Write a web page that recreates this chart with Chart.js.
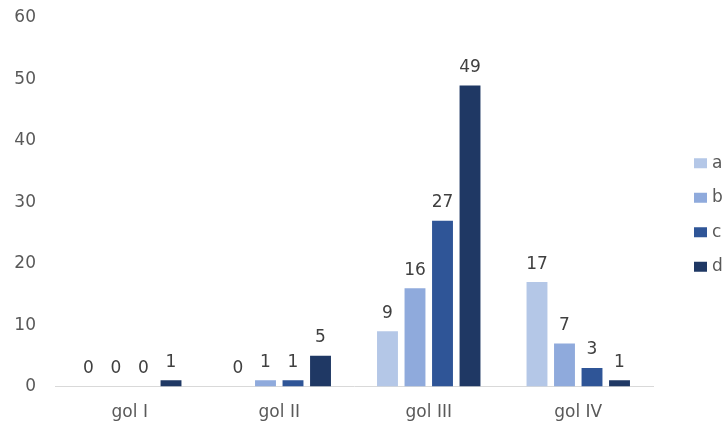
<!DOCTYPE html>
<html>
<head>
<meta charset="utf-8">
<script src="https://cdn.jsdelivr.net/npm/chart.js@4"></script>
<style>
  html, body { margin: 0; padding: 0; background: #fff; }
  #wrap { width: 724px; height: 423px; position: relative; }
</style>
</head>
<body>
<div id="wrap"><canvas id="chart"></canvas></div>
<script>
const categories = ["gol I", "gol II", "gol III", "gol IV"];
const seriesNames = ["a", "b", "c", "d"];
const valuesA = [0, 0, 9, 17];
const valuesB = [0, 1, 16, 7];
const valuesC = [0, 1, 27, 3];
const valuesD = [1, 5, 49, 1];
const yTicks = [0, 10, 20, 30, 40, 50, 60];

const colors = ["#b4c7e7", "#8faadc", "#2f5597", "#1f3864"];
const FONT = "'DejaVu Sans', sans-serif";

// value labels above each bar
const barLabels = {
    id: "barLabels",
    afterDatasetsDraw(chart) {
        const ctx = chart.ctx;
        ctx.save();
        ctx.font = "17px " + FONT;
        ctx.fillStyle = "#404040";
        ctx.textAlign = "center";
        ctx.textBaseline = "middle";
        chart.data.datasets.forEach((ds, i) => {
            chart.getDatasetMeta(i).data.forEach((bar, j) => {
                ctx.fillText(String(ds.data[j]), bar.x, bar.y - 18);
            });
        });
        ctx.restore();
    }
};

// vertical legend on the right
const sideLegend = {
    id: "sideLegend",
    afterDraw(chart) {
        const ctx = chart.ctx;
        const sets = chart.data.datasets;
        const step = 34.5;
        const y0 = 215 - step * (sets.length - 1) / 2;
        ctx.save();
        ctx.font = "17px " + FONT;
        ctx.textBaseline = "middle";
        sets.forEach((ds, i) => {
            const y = y0 + i * step;
            ctx.fillStyle = ds.backgroundColor;
            ctx.fillRect(694, y - 5, 13, 10);
            ctx.fillStyle = "#595959";
            ctx.fillText(ds.label, 712, y);
        });
        ctx.restore();
    }
};

const seriesValues = [valuesA, valuesB, valuesC, valuesD];

new Chart(document.getElementById("chart"), {
    type: "bar",
    data: {
        labels: categories,
        datasets: seriesNames.map((name, i) => ({
            label: name,
            data: seriesValues[i],
            backgroundColor: colors[i],
            categoryPercentage: 0.736,
            barPercentage: 0.76
        }))
    },
    options: {
        responsive: true,
        maintainAspectRatio: false,
        animation: false,
        layout: { padding: { left: 0, right: 71, top: 18, bottom: 0 } },
        plugins: {
            legend: { display: false },
            tooltip: { enabled: false }
        },
        scales: {
            x: {
                grid: { display: false, drawTicks: false },
                border: { display: true, color: "#d9d9d9", width: 1 },
                ticks: { color: "#595959", font: { family: FONT, size: 17 }, padding: 16 },
                afterFit(scale) { scale.height = 36.5; }
            },
            y: {
                min: 0,
                max: 60,
                afterBuildTicks(scale) { scale.ticks = yTicks.map(v => ({ value: v })); },
                grid: { display: false, drawTicks: false },
                border: { display: false },
                ticks: { color: "#595959", font: { family: FONT, size: 17 }, padding: 19 },
                afterFit(scale) {
                    scale.width = 55;
                    scale.paddingTop = 0;
                    scale.paddingBottom = 0;
                }
            }
        }
    },
    plugins: [barLabels, sideLegend]
});
</script>
</body>
</html>
